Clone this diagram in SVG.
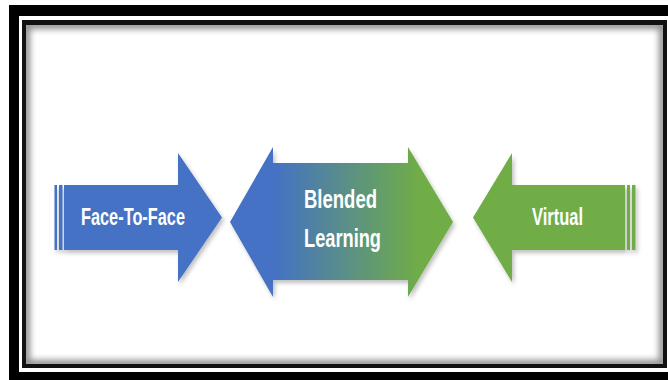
<svg xmlns="http://www.w3.org/2000/svg" width="668" height="380" viewBox="0 0 668 380">
  <defs>
    <style>
      .lbl { font-family: "Liberation Sans", Arial, sans-serif; font-weight: bold; fill: #ffffff; }
      .side { font-size: 23px; }
      .mid { font-size: 26px; }
      .blue { fill: #4472C4; }
      .green { fill: #70AD47; }
    </style>
    <linearGradient id="blend" x1="230" y1="0" x2="453" y2="0" gradientUnits="userSpaceOnUse">
      <stop offset="0.2" stop-color="#4472C4"/>
      <stop offset="0.85" stop-color="#70AD47"/>
    </linearGradient>
    <filter id="shadow" x="-10%" y="-10%" width="130%" height="130%">
      <feDropShadow dx="2" dy="3" stdDeviation="2" flood-color="#000" flood-opacity="0.25"/>
    </filter>
    <filter id="blur" x="-5%" y="-5%" width="110%" height="110%">
      <feGaussianBlur stdDeviation="3"/>
    </filter>
    <clipPath id="inner">
      <rect x="26" y="25" width="637" height="339"/>
    </clipPath>
  </defs>

  <rect x="0" y="0" width="668" height="380" fill="#ffffff"/>

  <g id="frame">
    <rect x="9" y="5" width="700" height="400" fill="#000000"/>
    <rect x="19" y="16" width="700" height="356" fill="#ffffff"/>
    <rect x="22" y="20" width="645" height="348" fill="#111111"/>
    <rect x="26" y="25" width="637" height="339" fill="#ffffff"/>
    <g clip-path="url(#inner)">
      <rect x="26" y="25" width="637" height="339" fill="none" stroke="#000" stroke-opacity="0.45" stroke-width="8" filter="url(#blur)"/>
    </g>
  </g>

  <g id="connectors"/>

  <g id="node-face" filter="url(#shadow)">
    <rect class="blue" x="54.5" y="185" width="2.5" height="65"/>
    <rect class="blue" x="59" y="185" width="3.5" height="65"/>
    <polygon class="blue" points="64,185 178,185 178,153 222,217.5 178,282 178,250 64,250"/>
  </g>
  <text class="lbl side" x="81" y="225" textLength="104" lengthAdjust="spacingAndGlyphs">Face-To-Face</text>

  <g id="node-blended" filter="url(#shadow)">
    <polygon fill="url(#blend)" points="230,222 273,147 273,163 408,163 408,147 453,222 408,297 408,280 273,280 273,297"/>
  </g>
  <text class="lbl mid" x="304" y="208" textLength="73" lengthAdjust="spacingAndGlyphs">Blended</text>
  <text class="lbl mid" x="304" y="247" textLength="77" lengthAdjust="spacingAndGlyphs">Learning</text>

  <g id="node-virtual" filter="url(#shadow)">
    <polygon class="green" points="473,217.5 512,153 512,185 625,185 625,250 512,250 512,282"/>
    <rect class="green" x="627" y="185" width="3" height="65"/>
    <rect class="green" x="632" y="185" width="3.5" height="65"/>
  </g>
  <text class="lbl side" x="532" y="225" textLength="51" lengthAdjust="spacingAndGlyphs">Virtual</text>
</svg>
